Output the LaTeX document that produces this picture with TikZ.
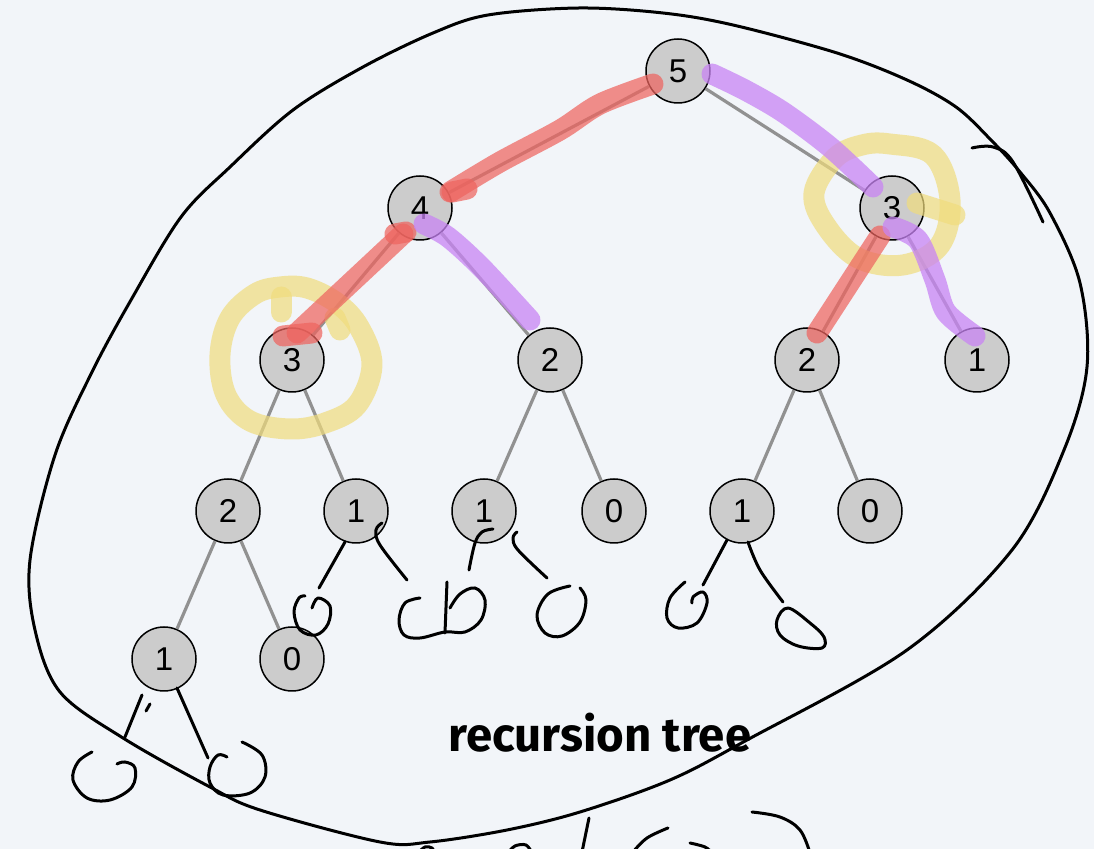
\documentclass[tikz,border=0pt]{standalone}
\usepackage{fontspec}
\setmainfont{Liberation Sans}
\newfontfamily\labelfont{Fira Sans}
\definecolor{bgcol}{RGB}{242,245,249}
\definecolor{nodegray}{RGB}{204,204,204}
\definecolor{edgegray}{RGB}{145,145,145}
\definecolor{hlred}{RGB}{238,100,95}
\definecolor{hlpurple}{RGB}{200,132,244}
\definecolor{hlyellow}{RGB}{240,220,125}
\begin{document}
\begin{tikzpicture}[x=0.5pt,y=-0.5pt,
  tnode/.style={circle,draw=black,line width=0.75pt,fill=nodegray,minimum size=32pt,inner sep=0pt,font=\fontsize{16.5}{17}\selectfont},
  treeedge/.style={draw=edgegray,line width=1.6pt},
  ink/.style={draw=black,line width=1.5pt,line cap=round,line join=round},
  redhl/.style={draw=hlred,line width=10.5pt,line cap=round,line join=round,draw opacity=0.72},
  purplehl/.style={draw=hlpurple,line width=10.5pt,line cap=round,line join=round,draw opacity=0.75},
  yellowhl/.style={draw=hlyellow,line width=10.5pt,line cap=round,line join=round,draw opacity=0.7}]
\fill[bgcol] (0,0) rectangle (1094,849);
\useasboundingbox (0,0) rectangle (1094,849);
\begin{scope}
\clip (0,0) rectangle (1094,849);
% nodes
\node[tnode] (n5) at (678,71) {5};
\node[tnode] (n4) at (420,208) {4};
\node[tnode] (n3r) at (892,208) {3};
\node[tnode] (n3l) at (292,360) {3};
\node[tnode] (n2a) at (550,360) {2};
\node[tnode] (n2b) at (807,360) {2};
\node[tnode] (n1a) at (977,360) {1};
\node[tnode] (m2) at (228,511) {2};
\node[tnode] (m1a) at (356,511) {1};
\node[tnode] (m1b) at (484,511) {1};
\node[tnode] (m0a) at (614,511) {0};
\node[tnode] (m1c) at (742,511) {1};
\node[tnode] (m0b) at (870,511) {0};
\node[tnode] (b1) at (164,659) {1};
\node[tnode] (b0) at (292,659) {0};
% edges
\draw[treeedge] (n5) -- (n4);
\draw[treeedge] (n5) -- (n3r);
\draw[treeedge] (n4) -- (n3l);
\draw[treeedge] (n4) -- (n2a);
\draw[treeedge] (n3r) -- (n2b);
\draw[treeedge] (n3r) -- (n1a);
\draw[treeedge] (n3l) -- (m2);
\draw[treeedge] (n3l) -- (m1a);
\draw[treeedge] (n2a) -- (m1b);
\draw[treeedge] (n2a) -- (m0a);
\draw[treeedge] (n2b) -- (m1c);
\draw[treeedge] (n2b) -- (m0b);
\draw[treeedge] (m2) -- (b1);
\draw[treeedge] (m2) -- (b0);
% yellow highlights
\draw[yellowhl] plot[smooth cycle,tension=0.6] coordinates {(280,287) (307,288) (337,303) (359,327) (372,365) (357,405) (325,423) (290,429) (250,421) (226,395) (220,355) (230,318) (255,294)};
\draw[yellowhl] (281,297) -- (281,312);
\draw[yellowhl] (335,318) -- (340,330);
\draw[yellowhl] plot[smooth cycle,tension=0.6] coordinates {(890,144) (933,155) (950,200) (940,245) (903,265) (858,258) (826,226) (814,193) (835,158) (862,145)};
\draw[yellowhl] (917,203) -- (955,215);
% red highlights
\draw[redhl] plot[smooth,tension=0.5] coordinates {(653,84) (600,104) (560,130) (500,162) (450,192)};
\draw[redhl] (452,192) -- (467,189);
\draw[redhl] (403,234) -- (297,333);
\draw[redhl] (395,234) -- (406,232);
\draw[redhl] (283,336) -- (312,333);
\draw[redhl] (880,236) -- (817,333);
% purple highlights
\draw[purplehl] plot[smooth,tension=0.5] coordinates {(712,74) (745,90) (783,112) (830,147) (873,187)};
\draw[purplehl] plot[smooth,tension=0.5] coordinates {(424,224) (448,237) (482,268) (530,320)};
\draw[purplehl] plot[smooth,tension=0.5] coordinates {(893,227) (918,240) (935,280) (946,312) (975,336)};
% label
\node[font=\labelfont\bfseries\fontsize{23.7}{26}\selectfont,anchor=base,inner sep=0pt] (lbl) at (600,752) {recursion tree};
% hand-drawn enclosing loop
\draw[ink] plot[smooth cycle,tension=0.55] coordinates {(579,8) (663,13) (733,25) (837,53) (907,80) (956,107) (991,140) (1020,172) (1050,213) (1080,283) (1087,367) (1064,450) (1012,550) (907,650) (747,740) (670,780) (580,812) (507,830) (430,842) (380,842) (260,810) (210,787) (123,738) (60,692) (35,630) (30,560) (55,455) (92,372) (131,300) (181,217) (230,167) (293,110) (363,67) (433,33) (488,15)};
\draw[ink] plot[smooth,tension=0.6] coordinates {(972,148) (993,147) (1013,162) (1043,222)};
% hand-drawn strokes under leaves
\draw[ink] (345,542) -- (319,588);
\draw[ink] plot[smooth,tension=0.6] coordinates {(382,523) (376,530) (380,545) (407,580)};
\draw[ink] plot[smooth,tension=0.6] coordinates {(312,608) (318,598) (330,606) (328,624) (316,635) (300,630) (294,612) (299,598) (305,596)};
\draw[ink] plot[smooth,tension=0.6] coordinates {(420,598) (405,603) (399,620) (404,635) (420,638) (445,632) (465,632) (481,620) (485,600) (475,588) (460,594) (450,608)};
\draw[ink] (447,582) -- (445,633);
\draw[ink] plot[smooth,tension=0.6] coordinates {(493,529) (482,532) (475,543) (469,570)};
\draw[ink] plot[smooth,tension=0.6] coordinates {(517,532) (513,538) (518,550) (547,578)};
\draw[ink] plot[smooth,tension=0.6] coordinates {(570,586) (548,594) (537,615) (545,633) (562,636) (580,622) (586,600) (580,588)};
\draw[ink] (727,540) -- (703,585);
\draw[ink] plot[smooth,tension=0.6] coordinates {(685,582) (670,598) (667,618) (678,628) (697,623) (707,603) (703,592) (693,597) (692,603)};
\draw[ink] plot[smooth,tension=0.6] coordinates {(748,542) (760,570) (783,602)};
\draw[ink] plot[smooth cycle,tension=0.6] coordinates {(788,608) (777,620) (780,635) (798,646) (822,648) (824,637) (810,623)};
\draw[ink] (142,695) -- (125,737);
\draw[ink] (146,711) -- (150,704);
\draw[ink] (177,688) -- (208,758);
\draw[ink] plot[smooth,tension=0.6] coordinates {(92,752) (78,762) (73,780) (87,798) (110,800) (132,787) (135,768) (125,762) (117,764)};
\draw[ink] plot[smooth,tension=0.6] coordinates {(227,757) (218,755) (210,767) (210,783) (223,795) (250,793) (265,777) (262,755) (242,742)};
% bottom fragments
\draw[ink] (589,818) -- (582,852);
\draw[ink] plot[smooth,tension=0.6] coordinates {(668,828) (647,838) (633,852)};
\draw[ink] plot[smooth,tension=0.6] coordinates {(690,843) (705,847) (712,853)};
\draw[ink] plot[smooth,tension=0.6] coordinates {(752,812) (780,817) (800,830) (810,853)};
\draw[ink] plot[smooth,tension=0.6] coordinates {(508,853) (515,846) (526,845) (532,853)};
\draw[ink] plot[smooth,tension=0.6] coordinates {(418,853) (425,847) (432,848) (435,853)};
\end{scope}
\end{tikzpicture}
\end{document}
